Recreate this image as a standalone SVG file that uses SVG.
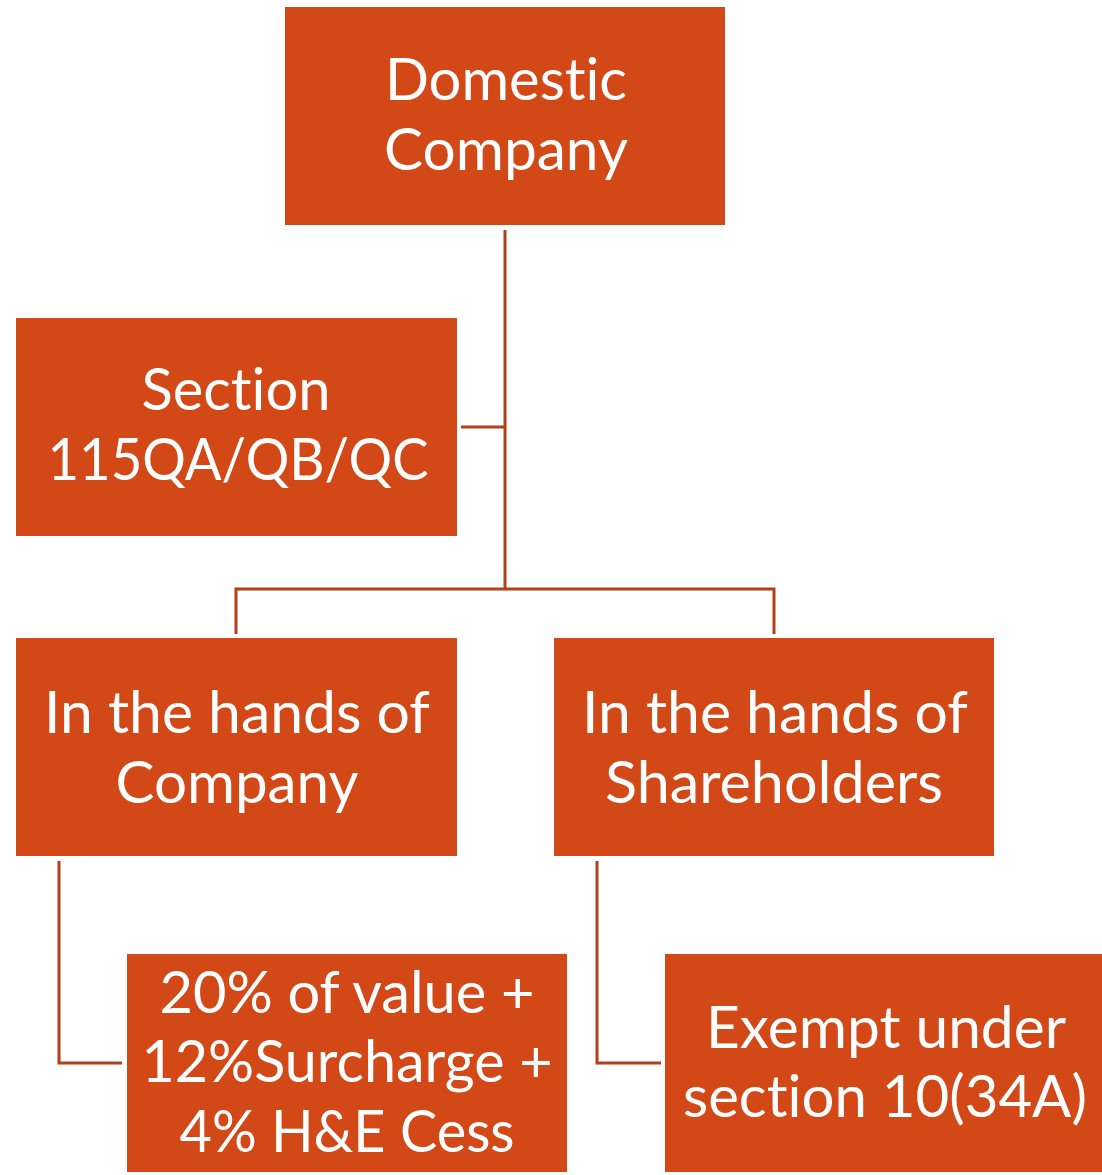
<svg xmlns="http://www.w3.org/2000/svg" width="1102" height="1175" viewBox="0 0 1102 1175">
  <style>
    .box { fill: #D34817; }
    .lbl { font-family: Lato, "Open Sans", sans-serif; font-size: 59px; fill: #FFFFFF; text-anchor: middle; font-variant-ligatures: none; }
    .conn { fill: none; stroke: #B43F19; stroke-width: 3; }
  </style>
  <rect width="1102" height="1175" fill="#FFFFFF"/>
  <g id="connectors">
    <path class="conn" d="M505,230 V589"/>
    <path class="conn" d="M461,427 H505"/>
    <path class="conn" d="M236,634 V589 H774 V634"/>
    <path class="conn" d="M59,861 V1063 H122"/>
    <path class="conn" d="M597,861 V1063 H661"/>
  </g>
  <g id="domestic-company">
    <rect class="box" x="285" y="7" width="440" height="218"/>
    <text class="lbl" x="506" y="100" textLength="242" lengthAdjust="spacingAndGlyphs">Domestic</text>
    <text class="lbl" x="506" y="170" textLength="244" lengthAdjust="spacingAndGlyphs">Company</text>
  </g>
  <g id="section-115">
    <rect class="box" x="16" y="318" width="441" height="218"/>
    <text class="lbl" x="236" y="410" textLength="189" lengthAdjust="spacingAndGlyphs">Section</text>
    <text class="lbl" x="238" y="480" textLength="381" lengthAdjust="spacingAndGlyphs">115QA/QB/QC</text>
  </g>
  <g id="hands-of-company">
    <rect class="box" x="16" y="638" width="441" height="218"/>
    <text class="lbl" x="237" y="733" textLength="386" lengthAdjust="spacingAndGlyphs">In the hands of</text>
    <text class="lbl" x="237" y="803" textLength="243" lengthAdjust="spacingAndGlyphs">Company</text>
  </g>
  <g id="hands-of-shareholders">
    <rect class="box" x="554" y="638" width="440" height="218"/>
    <text class="lbl" x="775" y="733" textLength="386" lengthAdjust="spacingAndGlyphs">In the hands of</text>
    <text class="lbl" x="774" y="803" textLength="338" lengthAdjust="spacingAndGlyphs">Shareholders</text>
  </g>
  <g id="tax-rate">
    <rect class="box" x="127" y="954" width="440" height="218"/>
    <text class="lbl" x="347" y="1013" textLength="375" lengthAdjust="spacingAndGlyphs">20% of value +</text>
    <text class="lbl" x="347" y="1082" textLength="411" lengthAdjust="spacingAndGlyphs">12%Surcharge +</text>
    <text class="lbl" x="347" y="1152" textLength="335" lengthAdjust="spacingAndGlyphs">4% H&amp;E Cess</text>
  </g>
  <g id="exempt">
    <rect class="box" x="665" y="954" width="437" height="218"/>
    <text class="lbl" x="886" y="1048" textLength="360" lengthAdjust="spacingAndGlyphs">Exempt under</text>
    <text class="lbl" x="885" y="1117" textLength="404" lengthAdjust="spacingAndGlyphs">section 10(34A)</text>
  </g>
</svg>
